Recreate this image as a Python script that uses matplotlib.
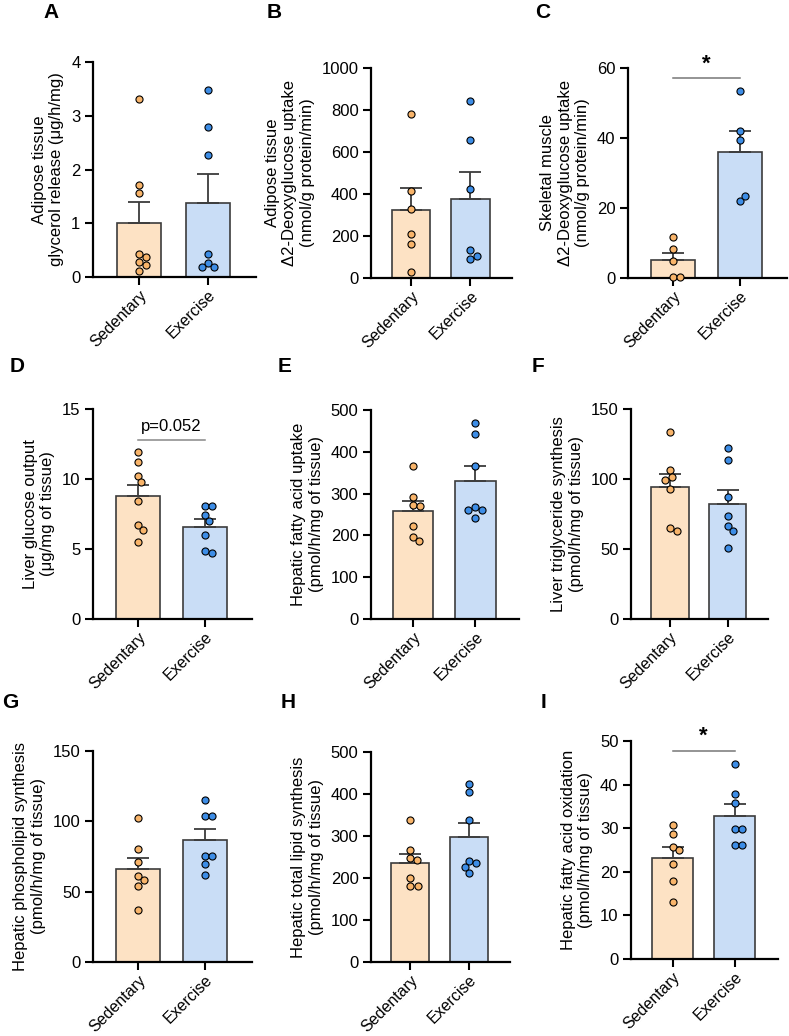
import matplotlib.pyplot as plt
import numpy as np

plt.rcParams['font.family'] = ['Liberation Sans', 'DejaVu Sans']

groups = ["Sedentary", "Exercise"]

# values, one list per group
A_sed = [3.31, 1.72, 1.56, 0.42, 0.37, 0.28, 0.23, 0.11]
A_exe = [3.47, 2.80, 2.27, 0.42, 0.26, 0.18, 0.18]
B_sed = [783, 414, 329, 211, 163, 29]
B_exe = [841, 656, 422, 132, 92, 103]
C_sed = [11.6, 8.2, 5.0, 0.3, 0.2]
C_exe = [53.4, 42.0, 39.4, 21.9, 23.3]
D_sed = [11.9, 11.2, 10.24, 9.76, 8.45, 6.71, 6.33, 5.5]
D_exe = [8.05, 8.05, 7.45, 7.02, 6.02, 4.86, 4.69]
E_sed = [366, 291, 273, 271, 223, 197, 187]
E_exe = [470, 442, 365, 267, 261, 261, 241]
F_sed = [133.8, 106.2, 101.2, 99.5, 92.9, 64.8, 63.1]
F_exe = [122.1, 113.3, 86.9, 73.3, 66.2, 63.1, 50.7]
G_sed = [102.2, 80.3, 70.8, 61.1, 58.0, 54.0, 36.8]
G_exe = [115.5, 103.9, 103.9, 75.6, 75.6, 69.4, 61.8]
H_sed = [337, 267, 248, 242, 201, 180, 180]
H_exe = [425, 404, 337, 240, 235, 226, 213]
I_sed = [30.8, 28.7, 25.6, 25.0, 21.8, 17.9, 13.0]
I_exe = [44.7, 37.8, 35.7, 29.8, 29.8, 26.2, 26.2]

ylabels = {
    "A": "Adipose tissue\nglycerol release (μg/h/mg)",
    "B": "Adipose tissue\nΔ2-Deoxyglucose uptake\n(nmol/g protein/min)",
    "C": "Skeletal muscle\nΔ2-Deoxyglucose uptake\n(nmol/g protein/min)",
    "D": "Liver glucose output\n(μg/mg of tissue)",
    "E": "Hepatic fatty acid uptake\n(pmol/h/mg of tissue)",
    "F": "Liver triglyceride synthesis\n(pmol/h/mg of tissue)",
    "G": "Hepatic phospholipid synthesis\n(pmol/h/mg of tissue)",
    "H": "Hepatic total lipid synthesis\n(pmol/h/mg of tissue)",
    "I": "Hepatic fatty acid oxidation\n(pmol/h/mg of tissue)",
}
yticks = {
    "A": [0, 1, 2, 3, 4], "B": [0, 200, 400, 600, 800, 1000],
    "C": [0, 20, 40, 60], "D": [0, 5, 10, 15],
    "E": [0, 100, 200, 300, 400, 500], "F": [0, 50, 100, 150],
    "G": [0, 50, 100, 150], "H": [0, 100, 200, 300, 400, 500],
    "I": [0, 10, 20, 30, 40, 50],
}
data = {"A": (A_sed, A_exe), "B": (B_sed, B_exe), "C": (C_sed, C_exe),
        "D": (D_sed, D_exe), "E": (E_sed, E_exe), "F": (F_sed, F_exe),
        "G": (G_sed, G_exe), "H": (H_sed, H_exe), "I": (I_sed, I_exe)}

# axes boxes in pixels: left, right, top, bottom ; letter position
W, H = 789, 1036
boxes = {
    "A": (93, 256, 62, 277, 51, 13),
    "B": (371, 512, 68, 278, 274, 13),
    "C": (628, 787, 68, 278, 543, 13),
    "D": (93, 252, 409, 619, 17, 366),
    "E": (371, 519, 410, 619, 285, 366),
    "F": (631, 768, 409, 619, 538, 366),
    "G": (93, 252, 751, 962, 10, 702),
    "H": (371, 510, 752, 962, 288, 702),
    "I": (631, 778, 741, 959, 544, 702),
}

bar_fill = ["#fde2c4", "#c9ddf6"]
dot_fill = ["#f8b46a", "#3d8de6"]
edge = "#3c3c3c"
FS = 12


def swarm(ax, x0, vals, d_px):
    # simple beeswarm in pixel space
    pts = ax.transData.transform(np.column_stack([np.full(len(vals), x0), vals]))
    cx = pts[0, 0]
    placed = []
    xs = []
    for px, py in pts:
        cands = [0.0]
        for qx, qy in placed:
            dy = py - qy
            if abs(dy) < d_px:
                dx = np.sqrt(d_px ** 2 - dy ** 2)
                cands += [qx + dx, qx - dx]
        cands.sort(key=abs)
        for c in cands:
            ok = all((c - qx) ** 2 + (py - qy) ** 2 >= d_px ** 2 - 1e-6 for qx, qy in placed)
            if ok:
                break
        placed.append((c, py))
        xs.append(c)
    inv = ax.transData.inverted()
    return [inv.transform((cx + c, 0))[0] for c in xs]


fig = plt.figure(figsize=(W / 100, H / 100), dpi=100)

for key, (l, r, t, b, lx, ly) in boxes.items():
    ax = fig.add_axes([l / W, 1 - b / H, (r - l) / W, (b - t) / H])
    ax.set_xlim(-0.67, 1.7)
    ax.set_ylim(0, yticks[key][-1])
    for i, vals in enumerate(data[key]):
        v = np.array(vals)
        m = v.mean()
        se = v.std(ddof=1) / np.sqrt(len(v))
        ax.bar(i, m, width=0.65, color=bar_fill[i], edgecolor=edge, linewidth=1.2, zorder=1)
        ax.errorbar(i, m, yerr=[[0], [se]], color=edge, capsize=8, elinewidth=1.3,
                    capthick=1.3, zorder=2)
        xs = swarm(ax, i, v, 7.3)
        ax.scatter(xs, v, s=26, color=dot_fill[i], edgecolor="black", linewidth=0.8,
                   zorder=3, clip_on=False)
    for s in ["top", "right"]:
        ax.spines[s].set_visible(False)
    for s in ["left", "bottom"]:
        ax.spines[s].set_linewidth(1.6)
    ax.set_yticks(yticks[key])
    ax.set_xticks([0, 1])
    ax.set_xticklabels(groups, rotation=45, ha="right", rotation_mode="anchor")
    ax.tick_params(labelsize=FS, width=1.5, length=6, pad=3)
    ax.tick_params(axis="x", labelsize=11.5, pad=1.5)
    ax.set_ylabel(ylabels[key], fontsize=FS, labelpad=5)
    fig.text(lx / W, 1 - ly / H, key, fontsize=15, fontweight="bold", ha="center", va="center")

    if key == "C":
        ax.plot([0, 1], [57.1, 57.1], color="#777777", lw=1.1, clip_on=False)
        ax.text(0.5, 58.2, "*", ha="center", va="bottom", fontsize=16, fontweight="bold")
    if key == "D":
        ax.plot([0, 1], [12.8, 12.8], color="#888888", lw=1.1, clip_on=False)
        ax.text(0.5, 13.2, "p=0.052", ha="center", va="bottom", fontsize=FS)
    if key == "I":
        ax.plot([0, 1], [47.7, 47.7], color="#777777", lw=1.1, clip_on=False)
        ax.text(0.5, 48.6, "*", ha="center", va="bottom", fontsize=16, fontweight="bold")

fig.savefig("out.png", dpi=100)
